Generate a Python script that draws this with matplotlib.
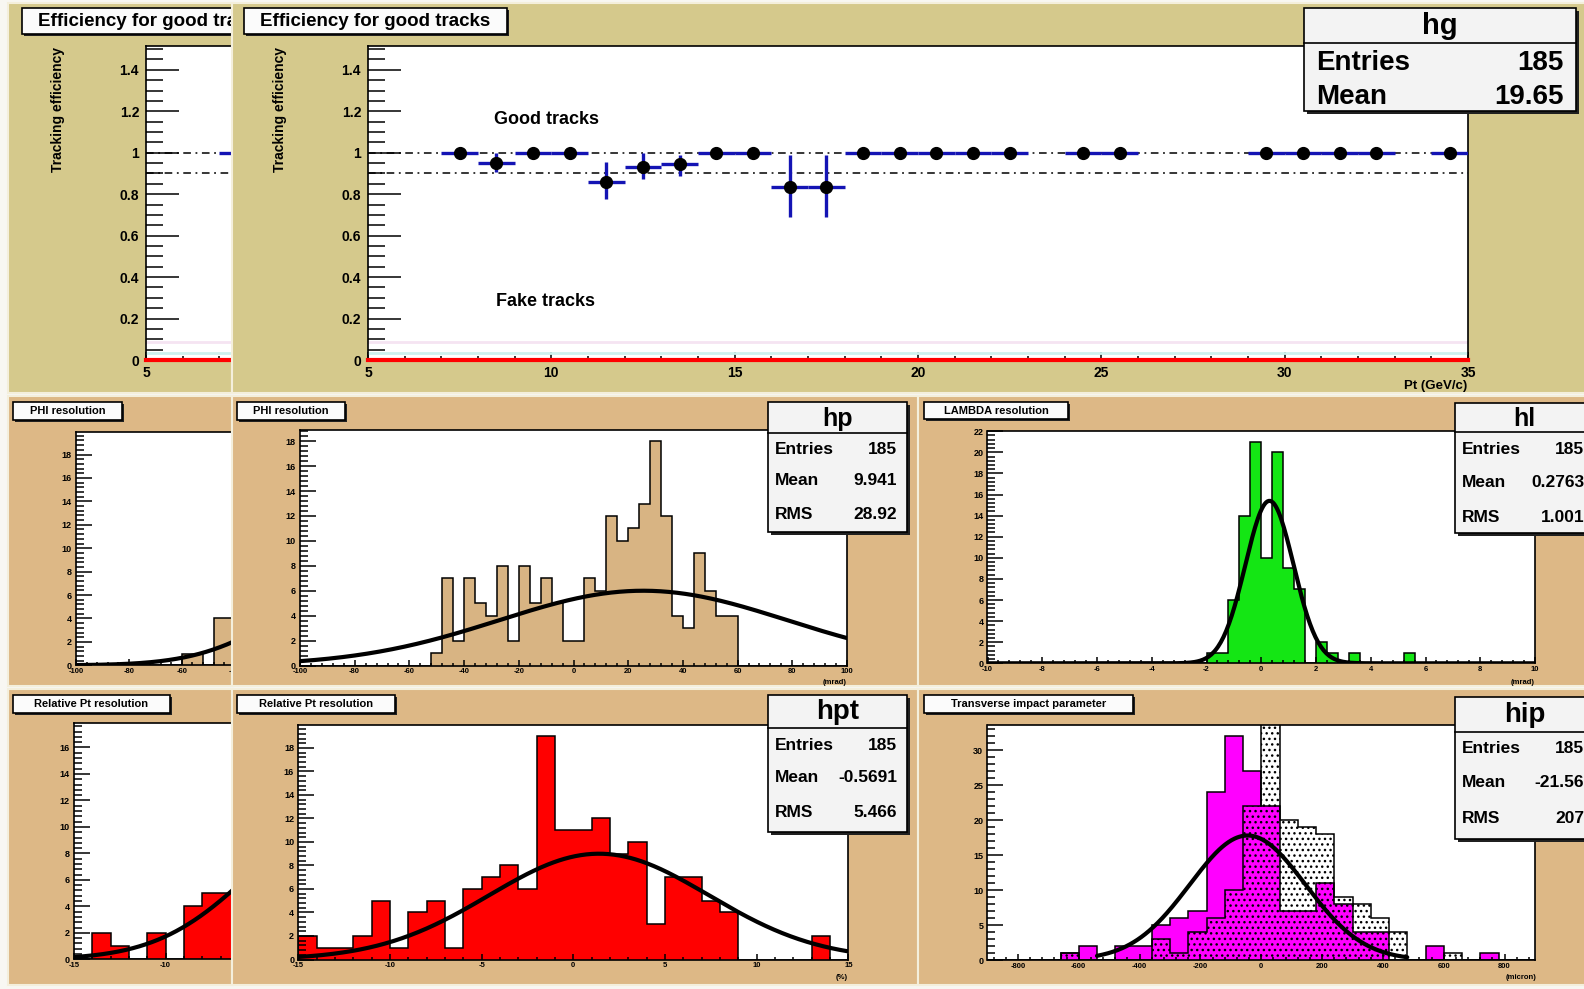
import numpy as np
import matplotlib.pyplot as plt
from matplotlib.patches import Rectangle
from matplotlib.ticker import MultipleLocator, FuncFormatter

plt.rcParams['font.family'] = ['Liberation Sans', 'DejaVu Sans']
plt.rcParams['font.weight'] = 'bold'
plt.rcParams['hatch.linewidth'] = 1.0
plt.rcParams['hatch.color'] = 'black'

W, H = 1584, 989

KHAKI = '#d5c98c'
TAN = '#ddb886'
PHI_FILL = '#d8b483'
GREEN = '#14e614'
RED = '#ff0000'
MAGENTA = '#ff00ff'
ERR_BLUE = '#1414b4'

# tracking efficiency per 1 GeV/c Pt bin
pt_centers = [7.5, 8.5, 9.5, 10.5, 11.5, 12.5, 13.5, 14.5, 15.5, 16.5, 17.5, 18.5,
              19.5, 20.5, 21.5, 22.5, 24.5, 25.5, 29.5, 30.5, 31.5, 32.5, 34.5]
eff_good = [1, 0.95, 1, 1, 0.857, 0.929, 0.944, 1, 1, 0.833, 0.833, 1,
            1, 1, 1, 1, 1, 1, 1, 1, 1, 1, 1]
eff_err_lo = [0, 0.045, 0, 0, 0.082, 0.055, 0.055, 0, 0, 0.143, 0.143, 0,
              0, 0, 0, 0, 0, 0, 0, 0, 0, 0, 0]
eff_err_hi = [0, 0.05, 0, 0, 0.1, 0.071, 0.047, 0, 0, 0.158, 0.158, 0,
              0, 0, 0, 0, 0, 0, 0, 0, 0, 0, 0]
eff_ref_lines = [1.0, 0.9]
eff_fake = 0.0
fake_band = [0.034, 0.087]
hg_stats = [('Entries', '185'), ('Mean', '19.65')]

# PHI resolution, 4 mrad bins on [-100, 100]
phi_edges = np.arange(-100, 101, 4)
phi_counts = [0, 0, 0, 0, 0, 0, 0, 0, 0, 0, 0, 0,
              1, 7, 2, 7, 5, 4, 8, 2, 8, 5, 7, 5, 2, 2, 7, 6, 12, 10,
              11, 13, 18, 12, 4, 3, 9, 6, 4, 4,
              0, 0, 0, 0, 0, 0, 0, 0, 0, 0]
phi_fit = (6.0, 25.5, 52.6)
hp_stats = [('Entries', '185'), ('Mean', '9.941'), ('RMS', '28.92')]

# earlier PHI resolution canvas
phi_old_counts = [0, 0, 0, 0, 0, 0, 0, 0, 0, 0, 1, 1, 0, 4, 4,
                  0, 0, 0, 0, 0, 0, 0, 0, 0, 0, 0, 0, 0, 0, 0,
                  0, 0, 0, 0, 0, 0, 0, 0, 0, 0, 0, 0, 0, 0, 0,
                  0, 0, 0, 0, 0]
phi_old_fit = (7.0, 10.0, 32.0)

# LAMBDA resolution, 0.4 mrad bins on [-10, 10]
lam_edges = np.linspace(-10, 10, 51)
lam_counts = [0, 0, 0, 0, 0, 0, 0, 0, 0, 0, 0, 0, 0, 0, 0, 0, 0, 0, 0, 0,
              1, 1, 6, 14, 21, 10, 20, 9, 7, 0, 2, 1, 0, 1,
              0, 0, 0, 0, 1, 0, 0, 0, 0, 0, 0, 0, 0, 0, 0, 0]
lam_fit = (15.4, 0.3, 0.88)
hl_stats = [('Entries', '185'), ('Mean', '0.2763'), ('RMS', '1.001')]

# relative Pt resolution, 1 % bins on [-15, 15]
rpt_edges = np.arange(-15, 16, 1)
rpt_counts = [2, 1, 1, 2, 5, 1, 4, 5, 1, 6, 7, 8, 6, 19, 11,
              11, 12, 9, 10, 3, 7, 7, 5, 4, 0, 0, 0, 0, 2, 0]
rpt_fit = (9.0, 1.4, 6.0)
hpt_stats = [('Entries', '185'), ('Mean', '-0.5691'), ('RMS', '5.466')]

rpt_old_counts = [0, 2, 1, 0, 2, 0, 4, 5, 5, 0, 0, 0, 0, 0, 0,
                  0, 0, 0, 0, 0, 0, 0, 0, 0, 0, 0, 0, 0, 0, 0]
rpt_old_fit = (11.0, 0.0, 5.2)

# transverse impact parameter, 60 micron bins on [-900, 900]
ip_edges = np.arange(-900, 901, 60)
ip_counts = [0, 0, 0, 0, 1, 2, 0, 2, 2, 5, 6, 7, 24, 32, 27,
             22, 7, 7, 11, 8, 4, 4, 0, 0, 2, 0, 0, 1, 0, 0]
ip_counts_ref = [0, 0, 0, 0, 1, 0, 0, 0, 0, 3, 1, 4, 6, 10, 22,
                 35, 20, 19, 18, 9, 8, 6, 4, 0, 0, 1, 0, 0, 0, 0]
ip_fit = (17.8, -45.0, 190.0)
ip_fit_range = (-540, 480)
hip_stats = [('Entries', '185'), ('Mean', '-21.56'), ('RMS', '207')]


fig = plt.figure(figsize=(W / 100, H / 100), dpi=100)
fig.patch.set_facecolor('#f8f7f2')


def px_axes(x0, y0, x1, y1):
    return fig.add_axes([x0 / W, 1 - y1 / H, (x1 - x0) / W, (y1 - y0) / H])


def canvas(x0, y0, x1, y1, color):
    ax = px_axes(x0, y0, x1, y1)
    ax.set_axis_off()
    ax.add_patch(Rectangle((0, 0), 1, 1, transform=ax.transAxes, facecolor=color,
                           edgecolor='#f4efdc', lw=1.5, clip_on=False))


def overlay(x0, y0, x1, y1):
    ax = px_axes(x0, y0, x1, y1)
    ax.set_axis_off()
    ax.set_xlim(x0, x1)
    ax.set_ylim(y1, y0)
    return ax


def pave(ov, x0, y0, x1, y1, shadow=3, fc='#f3f3f3'):
    ov.add_patch(Rectangle((x0 + shadow, y0 + shadow), x1 - x0, y1 - y0,
                           facecolor='#202020', edgecolor='none', clip_on=False))
    ov.add_patch(Rectangle((x0, y0), x1 - x0, y1 - y0, facecolor=fc,
                           edgecolor='black', lw=1.2, clip_on=False))


def title_pave(ov, box, text, size):
    x0, y0, x1, y1 = box
    pave(ov, x0, y0, x1, y1, shadow=2, fc='#fbfbfb')
    ov.text((x0 + x1) / 2, (y0 + y1) / 2, text, ha='center', va='center',
            fontsize=size, clip_on=True)


def stats_pave(ov, box, ysep, name, name_size, rows, row_y, lab_x, val_x, size):
    x0, y0, x1, y1 = box
    pave(ov, x0, y0, x1, y1)
    ov.plot([x0, x1], [ysep, ysep], color='black', lw=1.2, clip_on=False)
    ov.text((x0 + x1) / 2, (y0 + ysep) / 2 + 1, name, ha='center', va='center',
            fontsize=name_size, clip_on=False)
    for (lab, val), y in zip(rows, row_y):
        ov.text(lab_x, y, lab, ha='left', va='center', fontsize=size, clip_on=False)
        ov.text(val_x, y, val, ha='right', va='center', fontsize=size, clip_on=False)


def root_frame(box, xlim, ylim, xstep, ystep, ylen, xlen, ysize, xsize, ypad=3, xpad=2):
    ax = px_axes(*box)
    ax.set_facecolor('white')
    ax.set_xlim(*xlim)
    ax.set_ylim(*ylim)
    ax.xaxis.set_major_locator(MultipleLocator(xstep[0]))
    ax.xaxis.set_minor_locator(MultipleLocator(xstep[1]))
    ax.yaxis.set_major_locator(MultipleLocator(ystep[0]))
    ax.yaxis.set_minor_locator(MultipleLocator(ystep[1]))
    fmt = FuncFormatter(lambda v, p: f'{v:g}')
    ax.xaxis.set_major_formatter(fmt)
    ax.yaxis.set_major_formatter(fmt)
    ax.tick_params(which='both', direction='in', top=False, right=False, width=1.1)
    ax.tick_params(axis='y', which='major', length=ylen[0], pad=ypad, labelsize=ysize)
    ax.tick_params(axis='y', which='minor', length=ylen[1])
    ax.tick_params(axis='x', which='major', length=xlen[0], pad=xpad, labelsize=xsize)
    ax.tick_params(axis='x', which='minor', length=xlen[1])
    for sp in ax.spines.values():
        sp.set_linewidth(1.2)
    return ax


def gaus(x, c, mu, s):
    return c * np.exp(-0.5 * ((x - mu) / s) ** 2)


def fit_curve(ax, fit, lo, hi):
    xs = np.linspace(lo, hi, 400)
    ax.plot(xs, gaus(xs, *fit), color='black', lw=3, solid_capstyle='round')


def efficiency_window(dx, left, right, frame_right):
    # frame spans Pt 5..35 over 1100 px; an older canvas is only drawn up to frame_right
    canvas(left, 3, right, 393, KHAKI)
    x_hi = 5 + (frame_right - 368) * 30 / 1100
    ax = root_frame((368 + dx, 46, frame_right + dx, 360), (5, x_hi), (0, 1.515), (5, 1),
                    (0.2, 0.05), (24, 12), (6, 3), 10, 10, ypad=5, xpad=4)
    for yv, c in zip(fake_band, ['#cdf1ee', '#f5e4f2']):
        ax.axhline(yv, color=c, lw=2)
    for yv in eff_ref_lines:
        ax.axhline(yv, color='black', lw=1.1, ls=(0, (5, 3, 1.2, 3)))
    ax.axhline(eff_fake, color=RED, lw=3, clip_on=False, zorder=4)
    ax.errorbar(pt_centers, eff_good, xerr=0.5, yerr=[eff_err_lo, eff_err_hi], fmt='o',
                color='black', ecolor=ERR_BLUE, elinewidth=2.4, markersize=8.5,
                capsize=0, zorder=5)
    ov = overlay(left, 0, right, 393)
    title_pave(ov, (244 + dx, 8, 507 + dx, 34), 'Efficiency for good tracks', 13.5)
    ov.text(280 + dx, 47, 'Tracking efficiency', rotation=90, ha='center', va='top', fontsize=10)
    return ax, ov


# top row: an older efficiency canvas peeking out behind the current one
efficiency_window(-222, 8, 232, 480)
ax, ov = efficiency_window(0, 232, 1600, 1468)
ax.text(8.43, 1.158, 'Good tracks', fontsize=13, va='center')
ax.text(8.48, 0.28, 'Fake tracks', fontsize=13, va='center')
ov.text(1467, 386, 'Pt (GeV/c)', ha='right', va='center', fontsize=9.5)
stats_pave(ov, (1304, 8, 1576, 111), 43, 'hg', 21, hg_stats, [63, 97], 1316, 1564, 20)

# middle row, left: older PHI resolution canvas (mostly hidden)
canvas(8, 396, 232, 686, TAN)
ax = root_frame((76, 431.7, 260, 665.3), (-100, -100 + 184 / 2.645), (0, 19.95), (20, 4),
                (2, 0.4), (11.5, 6), (4.5, 2.2), 6.5, 5.5)
ax.stairs(phi_old_counts, phi_edges, fill=True, facecolor=PHI_FILL, edgecolor='black', lw=1.1)
fit_curve(ax, phi_old_fit, -100, -30)
ov = overlay(8, 396, 232, 686)
title_pave(ov, (13, 402, 122, 420), 'PHI resolution', 8)

# middle row: PHI resolution
canvas(232, 396, 918, 686, TAN)
ax = root_frame((300, 430, 847, 665.5), (-100, 100), (0, 18.9), (20, 4), (2, 0.4),
                (11.5, 6), (4.5, 2.2), 6.5, 5.5)
ax.stairs(phi_counts, phi_edges, fill=True, facecolor=PHI_FILL, edgecolor='black', lw=1.1)
fit_curve(ax, phi_fit, -100, 100)
ov = overlay(232, 396, 918, 686)
title_pave(ov, (237, 402, 345, 420), 'PHI resolution', 8)
ov.text(847, 682, '(mrad)', ha='right', va='center', fontsize=5.5)
stats_pave(ov, (768, 402, 907, 532), 433, 'hp', 18, hp_stats, [449, 480, 514], 775, 897, 12.5)

# middle row: LAMBDA resolution
canvas(918, 396, 1600, 686, TAN)
ax = root_frame((987.5, 430.7, 1535, 663.3), (-10, 10), (0, 22.05), (2, 0.4), (2, 0.4),
                (11.5, 6), (4.5, 2.2), 6.5, 5.5)
ax.stairs(lam_counts, lam_edges, fill=True, facecolor=GREEN, edgecolor='black', lw=1.1)
fit_curve(ax, lam_fit, -10, 10)
ov = overlay(918, 396, 1600, 686)
title_pave(ov, (924, 402, 1068, 419), 'LAMBDA resolution', 8)
ov.text(1535, 682, '(mrad)', ha='right', va='center', fontsize=5.5)
stats_pave(ov, (1455, 403, 1594, 533), 432, 'hl', 18, hl_stats, [449, 482, 517], 1462, 1584, 12.5)

# bottom row, left: older relative Pt canvas (mostly hidden)
canvas(8, 689, 232, 985, TAN)
ax = root_frame((74, 723, 260, 959.3), (-15, -15 + 186 / 18.33), (0, 17.85), (5, 1), (2, 0.4),
                (11.5, 6), (4.5, 2.2), 6.5, 5.5)
ax.stairs(rpt_old_counts, rpt_edges, fill=True, facecolor=RED, edgecolor='black', lw=1.1)
fit_curve(ax, rpt_old_fit, -15, -4)
ov = overlay(8, 689, 232, 985)
title_pave(ov, (13, 695, 170, 713), 'Relative Pt resolution', 8)

# bottom row: relative Pt resolution
canvas(232, 689, 918, 985, TAN)
ax = root_frame((298.3, 725, 848.3, 959.5), (-15, 15), (0, 19.95), (5, 1), (2, 0.4),
                (11.5, 6), (4.5, 2.2), 6.5, 5.5)
ax.stairs(rpt_counts, rpt_edges, fill=True, facecolor=RED, edgecolor='black', lw=1.1)
fit_curve(ax, rpt_fit, -15, 15)
ov = overlay(232, 689, 918, 985)
title_pave(ov, (237, 695, 395, 713), 'Relative Pt resolution', 8)
ov.text(848, 978, '(%)', ha='right', va='center', fontsize=5.5)
stats_pave(ov, (768, 695, 907, 832), 728, 'hpt', 20, hpt_stats, [746, 778, 813], 775, 897, 12.5)

# bottom row: transverse impact parameter
canvas(918, 689, 1600, 985, TAN)
ax = root_frame((987.5, 725, 1535, 960), (-900, 900), (0, 33.6), (200, 40), (5, 1),
                (11.5, 6), (4.5, 2.2), 6.5, 5.5)
ax.stairs(ip_counts, ip_edges, fill=True, facecolor=MAGENTA, edgecolor='black', lw=1.1)
ax.stairs(ip_counts_ref, ip_edges, fill=True, facecolor='none', edgecolor='black',
          hatch='...', lw=1.1)
fit_curve(ax, ip_fit, *ip_fit_range)
ov = overlay(918, 689, 1600, 985)
title_pave(ov, (924, 695, 1133, 713), 'Transverse impact parameter', 8)
ov.text(1537, 978, '(micron)', ha='right', va='center', fontsize=5.5)
stats_pave(ov, (1455, 697, 1594, 839), 732, 'hip', 20, hip_stats, [749, 783, 819], 1462, 1584, 12.5)

fig.savefig('out.png', dpi=100)
